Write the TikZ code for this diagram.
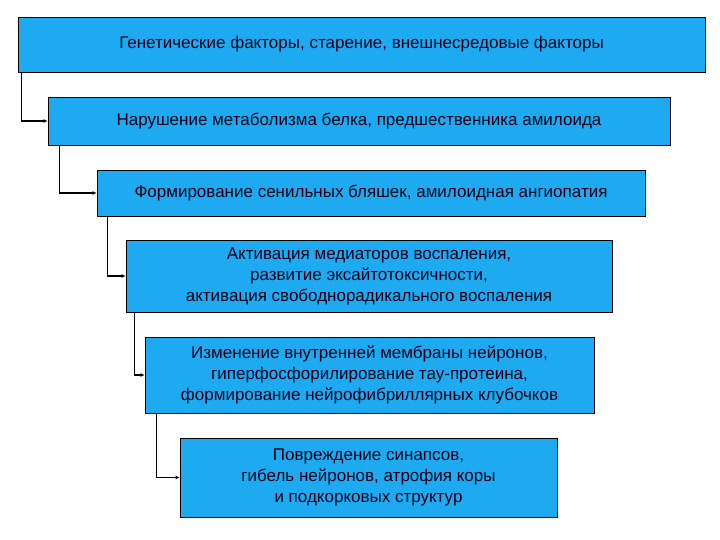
\documentclass[tikz,border=0pt]{standalone}
\usepackage{fontspec}
\setmainfont{Liberation Sans}
\usetikzlibrary{arrows.meta}
\begin{document}
\begin{tikzpicture}[x=1pt,y=-1pt,
  boxst/.style={draw=black, line width=0.8pt, fill=boxblue, align=center, inner sep=0pt, text=black!90!blue, font=\fontsize{17}{21}\selectfont},
  conn/.style={draw=black, line width=1.2pt, -{Latex[length=4pt,width=4pt]}}]
\definecolor{boxblue}{RGB}{30,170,240}
\useasboundingbox (0,0) rectangle (720,540);
\fill[white] (0,0) rectangle (720,540);
\node[boxst, minimum width=687, minimum height=55] (b1) at (361.5,44.5) {Генетические факторы, старение, внешнесредовые факторы};
\node[boxst, minimum width=622, minimum height=48] (b2) at (359,121) {Нарушение метаболизма белка, предшественника амилоида};
\node[boxst, minimum width=548, minimum height=46] (b3) at (371,193) {Формирование сенильных бляшек, амилоидная ангиопатия};
\node[boxst, minimum width=486, minimum height=72] (b4) at (369,276) {Активация медиаторов воспаления,\\развитие эксайтотоксичности,\\активация свободнорадикального воспаления};
\node[boxst, minimum width=449, minimum height=76] (b5) at (369.5,375) {Изменение внутренней мембраны нейронов,\\гиперфосфорилирование тау-протеина,\\формирование нейрофибриллярных клубочков};
\node[boxst, minimum width=377, minimum height=79] (b6) at (368.5,477.5) {Повреждение синапсов,\\гибель нейронов, атрофия коры\\и подкорковых структур};
\draw[conn] (b1.south west) ++(4,0) |- (b2.west);
\draw[conn] (b2.south west) ++(12,0) |- (b3.west);
\draw[conn] (b3.south west) ++(11,0) |- (b4.west);
\draw[conn] (b4.south west) ++(9,0) |- (b5.west);
\draw[conn] (b5.south west) ++(12,0) |- (b6.west);
\end{tikzpicture}
\end{document}
